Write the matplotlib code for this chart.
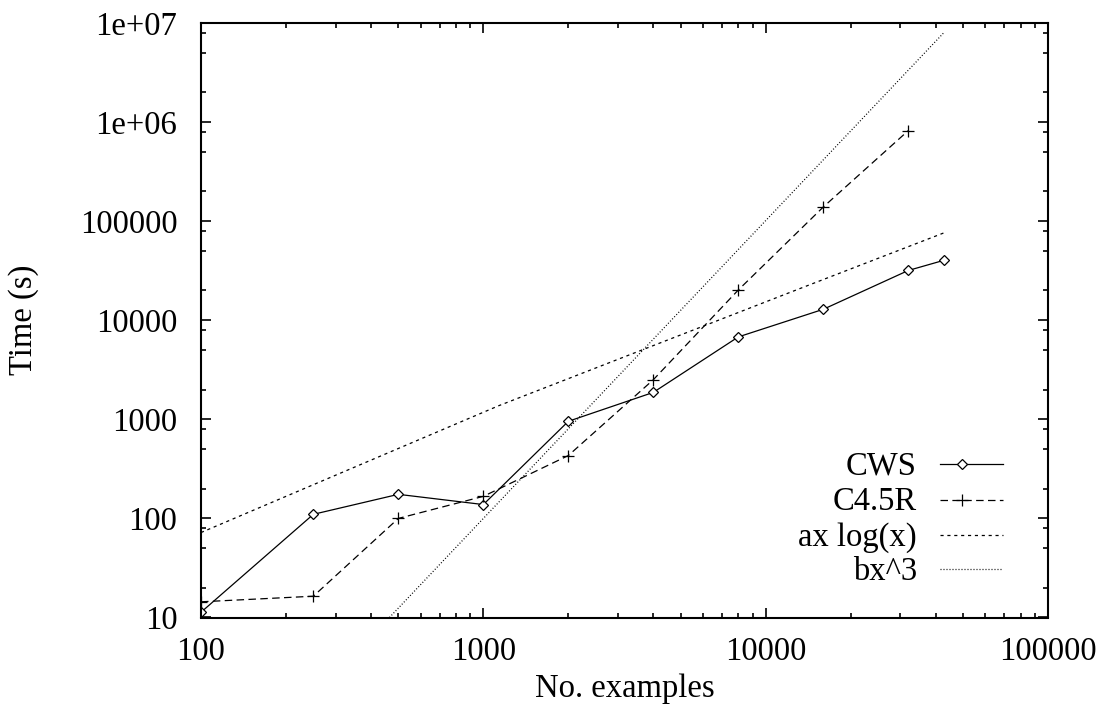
import numpy as np
import matplotlib
matplotlib.use("Agg")
import matplotlib.pyplot as plt
from matplotlib.ticker import LogLocator, FixedLocator, FixedFormatter, NullFormatter

plt.rcParams['font.family'] = ['Liberation Serif', 'DejaVu Serif']

# datos
ejemplos_cws = [100, 250, 500, 1000, 2000, 4000, 8000, 16000, 32000, 42700]
tiempo_cws = [11.3, 110, 175, 138, 955, 1870, 6790, 12900, 31800, 40200]

ejemplos_c45 = [100, 250, 500, 1000, 2000, 4000, 8000, 16000, 32000]
tiempo_c45 = [14.4, 16.4, 100, 167, 431, 2510, 20200, 139000, 820000]

# curvas de ajuste (puntos leidos sobre las lineas)
ajuste_log_x = [100, 1135, 13000, 42700]
ajuste_log_y = [72, 1374, 20500, 76000]
ajuste_cubo_x = [465, 42700]
ajuste_cubo_y = [10, 7.95e6]

xticks = [100, 1000, 10000, 100000]
xtick_labels = ['100', '1000', '10000', '100000']
yticks = [10, 100, 1000, 10000, 100000, 1e6, 1e7]
ytick_labels = ['10', '100', '1000', '10000', '100000', '1e+06', '1e+07']

series = [
    ('CWS', dict(ls='-', marker='D', ms=5.5, mfc='white')),
    ('C4.5R', dict(ls=(0, (6, 3.5)), marker='+', ms=8)),
    ('ax log(x)', dict(ls=(0, (2.5, 3)), marker=None)),
    ('bx^3', dict(ls=(0, (0.8, 1.6)), marker=None)),
]

fs = 23.5
fig = plt.figure(figsize=(11.07, 7.10), dpi=100)
ax = fig.add_axes([201 / 1107, 1 - 617.5 / 710, 847 / 1107, 594.5 / 710])

datos = [(ejemplos_cws, tiempo_cws), (ejemplos_c45, tiempo_c45),
         (ajuste_log_x, ajuste_log_y), (ajuste_cubo_x, ajuste_cubo_y)]
for (nombre, estilo), (xs, ys) in zip(series, datos):
    ax.plot(xs, ys, color='black', lw=0.9, mec='black', mew=0.9, clip_on=True, **estilo)

ax.set_xscale('log')
ax.set_yscale('log')
ax.set_xlim(100, 100000)
ax.set_ylim(10, 1e7)

ax.xaxis.set_major_locator(FixedLocator(xticks))
ax.xaxis.set_major_formatter(FixedFormatter(xtick_labels))
ax.yaxis.set_major_locator(FixedLocator(yticks))
ax.yaxis.set_major_formatter(FixedFormatter(ytick_labels))
ax.xaxis.set_minor_locator(LogLocator(base=10, subs=(2, 3, 4, 5, 6, 7, 8, 9)))
ax.yaxis.set_minor_locator(LogLocator(base=10, subs=(2, 5, 8)))
ax.xaxis.set_minor_formatter(NullFormatter())
ax.yaxis.set_minor_formatter(NullFormatter())

ax.tick_params(which='both', direction='in', top=True, right=True, width=1.2)
ax.tick_params(which='major', length=7.2)
ax.tick_params(which='minor', length=3.6)
ax.tick_params(axis='x', labelsize=fs, pad=14)
ax.tick_params(axis='y', labelsize=fs, pad=17)
for s in ax.spines.values():
    s.set_linewidth(1.5)

ax.set_xlabel('No. examples', fontsize=fs)
ax.set_ylabel('Time (s)', fontsize=fs)
ax.xaxis.set_label_coords(0.5, -0.095)
ax.yaxis.set_label_coords(-0.191, 0.5)

# leyenda a mano, estilo gnuplot (texto alineado a la derecha)
filas_y = [0.258, 0.198, 0.139, 0.0816]
for (nombre, estilo), fy in zip(series, filas_y):
    ax.text(0.845, fy - 0.0177, nombre, transform=ax.transAxes, ha='right',
            va='baseline', fontsize=fs)
    ax.plot([0.8725, 0.9469], [fy, fy], transform=ax.transAxes, color='black',
            lw=0.9, ls=estilo['ls'])
    if estilo['marker']:
        ax.plot([0.8985], [fy], transform=ax.transAxes, color='black', ls='none',
                marker=estilo['marker'], ms=estilo['ms'], mfc=estilo.get('mfc', 'none'),
                mec='black', mew=0.9)

fig.savefig('out.png', dpi=100)
